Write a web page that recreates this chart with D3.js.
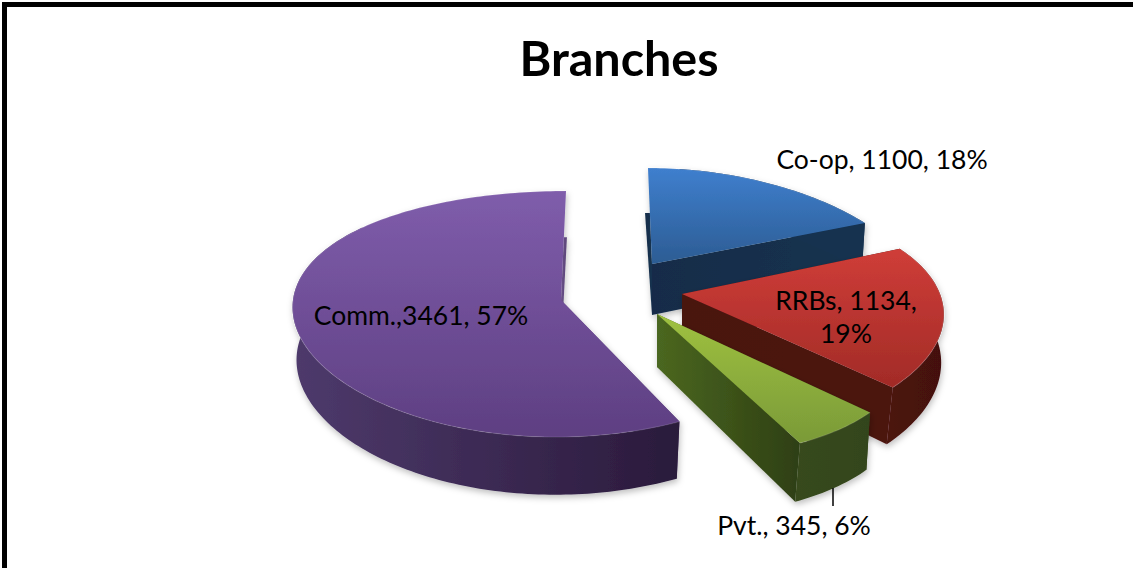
<!DOCTYPE html>
<html>
<head>
<meta charset="utf-8">
<script src="https://cdnjs.cloudflare.com/ajax/libs/d3/7.8.5/d3.min.js"></script>
<style>
	html, body {margin:0; padding:0; background:#fff; overflow:hidden;}
	text {font-family:Lato, "Open Sans", sans-serif; fill:#000;}
</style>
</head>
<body>
<div id="mainbox"></div>
<script>
const categories = ['Co-op', 'RRBs', 'Pvt.', 'Comm.'];
const branches = [1100, 1134, 345, 3461];
const percents = [18, 19, 6, 57];
const title = 'Branches';

const w = 1133, h = 568;

// per slice projection, fitted by eye: apex, radii, perspective, wall depth
const fit = {
	'Co-op': {ax:652, ay:264, rx:254, kx:.175, sh:4, ry:101, ky:.05, d:51, kd:.12, bs:.992, bv:3},
	'RRBs': {ax:682, ay:294, rx:258, kx:.175, sh:0, ry:119.5, ky:.21, d:50, kd:.2, bs:.994, bv:-7},
	'Pvt.': {ax:657, ay:314, rx:244, kx:.175, sh:20, ry:144, ky:0, d:53, kd:.12, bs:1, bv:-5.3},
	'Comm.': {ax:561, ay:300, rx:268, kx:.04, sh:-5, ry:123, ky:.114, d:52, kd:.11, bs:.985, bv:-1}
};
const colors = {
	'Co-op': {top:['#3f7fce', '#2c5c93'], wall:['#15304f', '#14304f'], cut:['#132c49', '#16324f']},
	'RRBs': {top:['#cf3d38', '#a22b27'], wall:['#4c1311', '#431110'], cut:['#4a1311', '#4c1311']},
	'Pvt.': {top:['#9fc140', '#7a9a38'], wall:['#37491a', '#33451a'], cut:['#4b6720', '#2e3f13']},
	'Comm.': {top:['#7f5dab', '#5e3f82'], wall:['#4e3a6c', '#2a1a3b'], cut:['#6a5288', '#5b4478']}
};
const labels = {
	'Co-op': [{t:d => `Co-op, ${d.value}, ${d.pct}%`, x:882, y:169}],
	'RRBs': [{t:d => `RRBs, ${d.value},`, x:846, y:310}, {t:d => `${d.pct}%`, x:846, y:343}],
	'Pvt.': [{t:d => `Pvt., ${d.value}, ${d.pct}%`, x:794, y:535}],
	'Comm.': [{t:d => `Comm.,${d.value}, ${d.pct}%`, x:421, y:325}]
};

const rows = categories.map((c, i) => ({name:c, value:branches[i], pct:percents[i]}));
const arcs = d3.pie().sort(null).value(d => d.value)(rows);

const svg = d3.select('#mainbox')
	.append('svg')
	.attr('width', w)
	.attr('height', h)
	.style('display', 'block');

const defs = svg.append('defs');
const shadow = defs.append('filter')
	.attr('id', 'soft')
	.attr('x', '-10%').attr('y', '-10%')
	.attr('width', '120%').attr('height', '120%');
shadow.append('feDropShadow')
	.attr('dx', 1).attr('dy', 3)
	.attr('stdDeviation', 3)
	.attr('flood-color', '#000')
	.attr('flood-opacity', .25);

function gradient(id, stops, vertical) {
	const g = defs.append('linearGradient')
		.attr('id', id)
		.attr('x1', 0).attr('y1', 0)
		.attr('x2', vertical ? 0 : 1).attr('y2', vertical ? 1 : 0);
	g.append('stop').attr('offset', '0%').attr('stop-color', stops[0]);
	g.append('stop').attr('offset', '100%').attr('stop-color', stops[1]);
}

// border: only top and left are in the picture
svg.append('path')
	.attr('d', `M2,2H${w}V7H7V${h}H2Z`)
	.attr('fill', '#000');

svg.append('text')
	.attr('x', 619)
	.attr('y', 76)
	.attr('text-anchor', 'middle')
	.attr('font-size', 48.5)
	.attr('font-weight', 700)
	.text(title);

// a = angle clockwise from 12 o'clock, level 0 = top face, 1 = bottom
function point(f, a, level) {
	const u = Math.sin(a), v = -Math.cos(a);
	let x = f.rx * u * (1 + f.kx * v) + f.sh * v;
	const y = f.ry * v * (1 + f.ky * v);
	if (level === 0) return [f.ax + x, f.ay + y];
	x = x * f.bs + f.bv * v;
	return [f.ax + x, f.ay + y + f.d * (1 + f.kd * v)];
}

const line = d3.line();

function arcPoints(f, a0, a1, level) {
	const n = Math.max(2, Math.ceil((a1 - a0) / .02));
	return d3.range(n + 1).map(i => point(f, a0 + (a1 - a0) * i / n, level));
}

const order = ['Co-op', 'RRBs', 'Comm.', 'Pvt.'];

const slices = svg.selectAll('.slice')
	.data(order.map(n => arcs.find(d => d.data.name === n)))
	.enter()
	.append('g')
	.attr('class', 'slice')
	.attr('filter', 'url(#soft)');

slices.each(function(d, i) {
	const g = d3.select(this);
	const name = d.data.name;
	const f = fit[name], c = colors[name];
	const a0 = d.startAngle, a1 = d.endAngle;
	const apexTop = [f.ax, f.ay];
	const apexBot = [f.ax, f.ay + f.d];

	gradient('top' + i, c.top, true);
	gradient('wall' + i, c.wall, false);
	gradient('cut' + i, c.cut, false);

	// the two cut faces go first, the outer wall hides the one facing away
	[a0, a1].forEach(a => {
		let top = point(f, a, 0);
		const bot = point(f, a, 1);
		// a cut at 12 o'clock only shows from its lower back corner down
		if (Math.cos(a) > .99) {
			const t = (bot[1] - top[1]) / (f.ay - top[1]);
			top = [top[0] + (f.ax - top[0]) * t, bot[1]];
		}
		g.append('path')
			.attr('d', line([apexTop, top, bot, apexBot]) + 'Z')
			.attr('fill', `url(#cut${i})`);
	});

	// skip the far part of the wall, it is behind the top face anyway
	const wa0 = Math.max(a0, .15), wa1 = Math.min(a1, 5.4);
	g.append('path')
		.attr('d', line(arcPoints(f, wa0, wa1, 0).concat(arcPoints(f, wa0, wa1, 1).reverse())) + 'Z')
		.attr('fill', `url(#wall${i})`);

	g.append('path')
		.attr('d', line([apexTop].concat(arcPoints(f, a0, a1, 0))) + 'Z')
		.attr('fill', `url(#top${i})`);

	// faint highlight where top face meets the wall
	g.append('path')
		.attr('d', line(arcPoints(f, a0, a1, 0)))
		.attr('fill', 'none')
		.attr('stroke', '#fff')
		.attr('stroke-opacity', .12)
		.attr('stroke-width', 1.2);
});

// leader line of the Pvt. label
svg.append('line')
	.attr('x1', 833).attr('y1', 488)
	.attr('x2', 833).attr('y2', 506)
	.attr('stroke', '#000')
	.attr('stroke-width', 1.5);

rows.forEach(d => {
	labels[d.name].forEach(l => {
		svg.append('text')
			.attr('x', l.x)
			.attr('y', l.y)
			.attr('text-anchor', 'middle')
			.attr('font-size', 26.5)
			.text(l.t(d));
	});
});
</script>
</body>
</html>
